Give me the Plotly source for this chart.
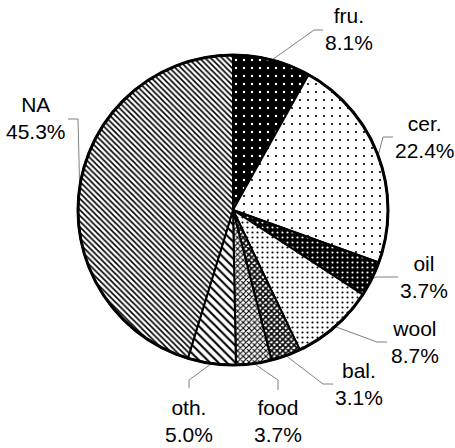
import math
import plotly.graph_objects as go

# ---- data ----
labels = ["fru.", "cer.", "oil", "wool", "bal.", "food", "oth.", "NA"]
values = [8.1, 22.4, 3.7, 8.7, 3.1, 3.7, 5.0, 45.3]

# ---- styling ----
W, H = 455, 448
CX, CY, R = 233, 210, 155  # pie centre / radius in pixels

pat_shape = [".", ".", ".", ".", "x", "x", "\\", "\\"]
pat_fg = ["white", "black", "white", "black", "black", "black", "black", "black"]
pat_bg = ["black", "white", "black", "white", "white", "white", "white", "white"]
pat_size = [8, 8, 5, 5, 4, 4, 6, 4]
pat_sol = [0.08, 0.06, 0.15, 0.15, 0.65, 0.45, 0.35, 0.4]

# label placement: (text centre x, text middle y), elbow point, segment end
label_pos = [(349, 29), (425, 137), (424, 277), (415, 342), (359, 384), (278, 421), (189, 421), (36, 118)]
elbow = [(314, 30), (383, 137), (376, 277), (377, 342), (323, 384), (278, 380), (189, 380), (78, 119)]
seg_end = [(323, 30), (393, 137), (398, 277), (387, 342), (333, 384), (278, 390), (189, 388), (68, 119)]


def px(x):
    return x / W


def py(y):
    return 1 - y / H


fig = go.Figure()
fig.add_trace(go.Pie(
    labels=labels,
    values=values,
    sort=False,
    direction="clockwise",
    rotation=0,
    textinfo="none",
    hoverinfo="label+percent",
    showlegend=False,
    domain=dict(x=[px(CX - R), px(CX + R)], y=[py(CY + R), py(CY - R)]),
    marker=dict(
        colors=pat_bg,
        line=dict(color="black", width=2),
        pattern=dict(shape=pat_shape, fgcolor=pat_fg, bgcolor=pat_bg,
                     size=pat_size, solidity=pat_sol, fillmode="replace"),
    ),
))

shapes = []
annotations = []
total = sum(values)
cum = 0.0
for i, (lab, v) in enumerate(zip(labels, values)):
    mid = (cum + v / 2) / total * 2 * math.pi
    cum += v
    sx = CX + R * math.sin(mid)
    sy = CY - R * math.cos(mid)
    ex, ey = elbow[i]
    tx, ty = seg_end[i]
    shapes.append(dict(type="path", xref="paper", yref="paper",
                       path=f"M {px(sx)} {py(sy)} L {px(ex)} {py(ey)} L {px(tx)} {py(ty)}",
                       line=dict(color="#808080", width=1)))
    lx, ly = label_pos[i]
    annotations.append(dict(x=px(lx), y=py(ly), xref="paper", yref="paper",
                            text=f"{lab}<br>{v:.1f}%", showarrow=False,
                            xanchor="center", yanchor="middle", align="center",
                            font=dict(family="Liberation Sans, Arial", size=21, color="black")))

shapes.append(dict(type="circle", xref="paper", yref="paper",
                   x0=px(CX - R), x1=px(CX + R), y0=py(CY + R), y1=py(CY - R),
                   line=dict(color="black", width=3)))

fig.update_layout(
    width=W, height=H, autosize=False,
    margin=dict(l=0, r=0, t=0, b=0),
    paper_bgcolor="white", plot_bgcolor="white",
    shapes=shapes, annotations=annotations,
)

fig.write_html("out.html", config={"displayModeBar": False},
               post_script="document.body.style.margin='0';document.body.style.overflow='hidden';")
